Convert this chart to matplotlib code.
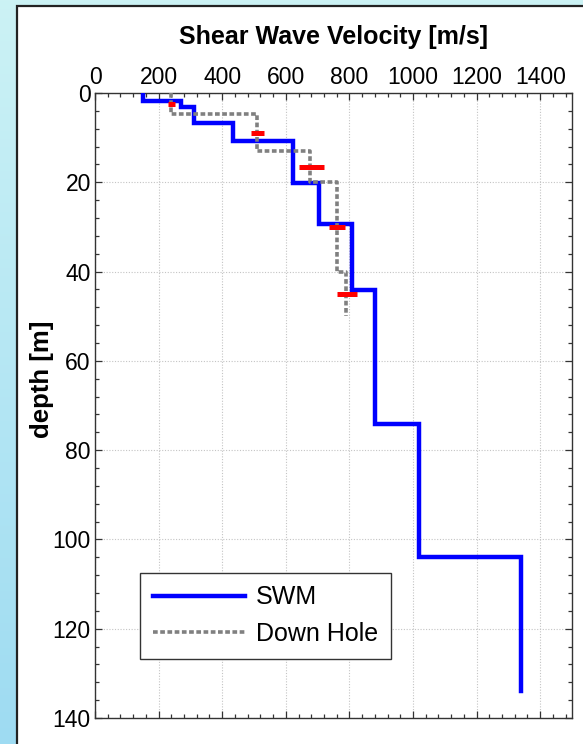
import numpy as np
import matplotlib
matplotlib.use("Agg")
import matplotlib.pyplot as plt
from matplotlib.patches import Rectangle
from matplotlib.ticker import MultipleLocator

plt.rcParams['font.family'] = ['Liberation Sans', 'DejaVu Sans']

# SWM layered profile: velocity of each layer and the depth of its base
swm_velocity = [152, 270, 310, 435, 622, 705, 808, 881, 1020, 1340]
swm_base_depth = [1.9, 3.1, 6.8, 10.7, 20.1, 29.4, 44.1, 74.2, 104.0, 134.0]

# Down Hole layered profile
dh_velocity = [238, 508, 677, 760, 790]
dh_base_depth = [4.8, 12.9, 19.9, 40.0, 50.0]

# Individual down-hole estimates (centre velocity, half range, depth)
pt_velocity = [239, 511, 680, 761, 792]
pt_halfrange = [11, 21, 40, 25, 32]
pt_depth = [2.5, 9.0, 16.5, 30.0, 45.0]


def step_profile(vel, base):
    xs, ys = [], []
    top = 0.0
    for v, b in zip(vel, base):
        xs += [v, v]
        ys += [top, b]
        top = b
    return xs, ys


W, H = 583, 744
fig = plt.figure(figsize=(W / 100, H / 100), dpi=100)

# light blue backdrop
bg = fig.add_axes([0, 0, 1, 1], zorder=-10)
grad = np.linspace(0, 1, 256)[:, None]
top_col = np.array([0.80, 0.95, 0.96])
bot_col = np.array([0.62, 0.86, 0.95])
img = top_col[None, None, :] * (1 - grad[..., None]) + bot_col[None, None, :] * grad[..., None]
img = np.repeat(img, 4, axis=1)
bg.imshow(img, aspect='auto', extent=[0, 1, 0, 1], origin='upper')
bg.set_xlim(0, 1)
bg.set_ylim(0, 1)
bg.axis('off')
bg.add_patch(Rectangle((16.5 / W, -0.1), 1.2, 1 - 5.5 / H + 0.1,
                       facecolor='white', edgecolor='#222222', linewidth=1.6))

ax = fig.add_axes([95 / W, 1 - 718 / H, (572 - 95) / W, (718 - 93) / H])

sx, sy = step_profile(swm_velocity, swm_base_depth)
dx, dy = step_profile(dh_velocity, dh_base_depth)

ax.plot(sx, sy, color='#0000ff', lw=3.2, solid_joinstyle='miter', label='SWM', zorder=3)
ax.plot(dx, dy, color='#808080', lw=2.6, linestyle=(0, (1.3, 0.7)), label='Down Hole', zorder=4)
ax.errorbar(pt_velocity, pt_depth, xerr=pt_halfrange, fmt='none', ecolor='#ff0000',
            elinewidth=3.6, capsize=0, zorder=5)

ax.set_xlim(0, 1500)
ax.set_ylim(140, 0)
ax.xaxis.set_major_locator(MultipleLocator(200))
ax.xaxis.set_minor_locator(MultipleLocator(40))
ax.yaxis.set_major_locator(MultipleLocator(20))
ax.yaxis.set_minor_locator(MultipleLocator(4))
ax.xaxis.tick_top()
ax.tick_params(which='both', direction='in', top=True, bottom=True, left=True, right=True,
               color='#333333', width=0.9)
ax.tick_params(which='major', length=5, labelsize=16.5, pad=3)
ax.tick_params(which='minor', length=3)
ax.tick_params(axis='x', labeltop=True, labelbottom=False)
for s in ax.spines.values():
    s.set_color('#333333')
    s.set_linewidth(1.0)
ax.grid(True, which='major', color='#c4c4c4', linestyle=(0, (1, 1.5)), linewidth=0.8)
ax.set_axisbelow(True)

fig.text(333.5 / W, 1 - 37 / H, 'Shear Wave Velocity [m/s]', ha='center', va='center',
         fontsize=18, fontweight='bold')
fig.text(42 / W, 1 - 379 / H, 'depth [m]', ha='center', va='center', rotation=90,
         fontsize=18.5, fontweight='bold')

leg = ax.legend(loc='upper left', bbox_to_anchor=(140 / W, 1 - 573 / H),
                bbox_transform=fig.transFigure, fontsize=18, frameon=True,
                fancybox=False, framealpha=1, edgecolor='#333333', borderpad=0.5,
                handlelength=3.7, handletextpad=0.45, labelspacing=0.5, borderaxespad=0)
leg.get_frame().set_linewidth(1.0)

fig.savefig('out.png', dpi=100)
